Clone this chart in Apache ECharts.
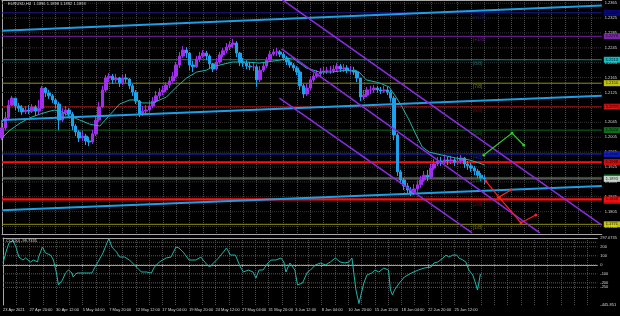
<!DOCTYPE html>
<html><head><meta charset="utf-8">
<script src="https://cdn.jsdelivr.net/npm/echarts@6/dist/echarts.min.js"></script>
<style>html,body{margin:0;padding:0;background:#000;}#c{width:620px;height:316px;}</style>
</head><body><div id="c"></div>
<script>
// ---------- data ----------
const tickLabels = ['23 Apr 2021','27 Apr 20:00','30 Apr 12:00','5 May 04:00','7 May 20:00','12 May 12:00','17 May 04:00','19 May 20:00','24 May 12:00','27 May 04:00','31 May 20:00','3 Jun 12:00','8 Jun 04:00','10 Jun 20:00','15 Jun 12:00','18 Jun 04:00','22 Jun 20:00','25 Jun 12:00'];
const slotCount = 180;          // 8-hour slots incl. empty future space
const firstOpen = 1.2003;
const closes = [1.2030,1.2057,1.2091,1.2110,1.2089,1.2083,1.2073,1.2078,1.2075,1.2086,
1.2075,1.2083,1.2137,1.2124,1.2116,1.2105,1.2094,1.2051,1.2070,1.2078,
1.2067,1.2035,1.2019,1.2003,1.2008,1.1995,1.1992,1.2014,1.2051,1.2086,
1.2132,1.2164,1.2169,1.2159,1.2164,1.2151,1.2164,1.2161,1.2143,1.2126,
1.2102,1.2067,1.2075,1.2078,1.2089,1.2102,1.2116,1.2126,1.2132,1.2145,
1.2156,1.2169,1.2199,1.2223,1.2239,1.2231,1.2199,1.2194,1.2215,1.2223,
1.2231,1.2223,1.2202,1.2188,1.2207,1.2226,1.2237,1.2247,1.2253,1.2258,
1.2231,1.2207,1.2204,1.2196,1.2194,1.2194,1.2159,1.2185,1.2196,1.2212,
1.2228,1.2234,1.2234,1.2228,1.2218,1.2207,1.2199,1.2191,1.2180,1.2143,
1.2121,1.2137,1.2159,1.2169,1.2175,1.2180,1.2183,1.2183,1.2183,1.2188,
1.2196,1.2188,1.2191,1.2185,1.2185,1.2180,1.2164,1.2113,1.2118,1.2132,
1.2132,1.2137,1.2132,1.2129,1.2132,1.2126,1.2110,1.2011,1.1912,1.1890,
1.1874,1.1863,1.1855,1.1866,1.1877,1.1890,1.1903,1.1898,1.1922,1.1933,
1.1941,1.1938,1.1944,1.1941,1.1944,1.1938,1.1941,1.1949,1.1933,1.1928,
1.1922,1.1914,1.1903,1.1895,1.1893];
const highs = [1.2051,1.2073,1.2105,1.2116,1.2110,1.2097,1.2091,1.2089,1.2091,1.2094,
1.2091,1.2105,1.2143,1.2140,1.2132,1.2121,1.2110,1.2100,1.2083,1.2089,
1.2083,1.2073,1.2040,1.2024,1.2022,1.2014,1.2006,1.2024,1.2062,1.2100,
1.2143,1.2172,1.2177,1.2175,1.2175,1.2167,1.2172,1.2175,1.2164,1.2148,
1.2132,1.2105,1.2089,1.2091,1.2102,1.2113,1.2129,1.2137,1.2143,1.2153,
1.2167,1.2180,1.2207,1.2234,1.2250,1.2247,1.2234,1.2210,1.2223,1.2234,
1.2239,1.2237,1.2228,1.2204,1.2218,1.2234,1.2245,1.2258,1.2263,1.2269,
1.2263,1.2234,1.2218,1.2212,1.2207,1.2204,1.2199,1.2196,1.2207,1.2220,
1.2237,1.2242,1.2245,1.2239,1.2234,1.2223,1.2212,1.2204,1.2196,1.2185,
1.2148,1.2148,1.2167,1.2177,1.2185,1.2191,1.2194,1.2194,1.2196,1.2199,
1.2204,1.2202,1.2202,1.2199,1.2196,1.2194,1.2185,1.2164,1.2132,1.2140,
1.2143,1.2145,1.2143,1.2140,1.2143,1.2140,1.2132,1.2116,1.2016,1.1917,
1.1895,1.1882,1.1871,1.1879,1.1887,1.1901,1.1914,1.1917,1.1933,1.1946,
1.1952,1.1952,1.1954,1.1952,1.1954,1.1949,1.1952,1.1957,1.1952,1.1941,
1.1936,1.1928,1.1920,1.1909,1.1903];
const lows = [1.1997,1.2024,1.2051,1.2089,1.2078,1.2073,1.2065,1.2067,1.2067,1.2070,
1.2062,1.2065,1.2083,1.2113,1.2108,1.2097,1.2083,1.2024,1.2046,1.2062,
1.2059,1.2024,1.2008,1.1992,1.1995,1.1984,1.1981,1.1987,1.2008,1.2046,
1.2083,1.2126,1.2153,1.2148,1.2151,1.2140,1.2145,1.2151,1.2134,1.2116,
1.2094,1.2059,1.2062,1.2067,1.2073,1.2083,1.2097,1.2108,1.2118,1.2126,
1.2137,1.2151,1.2164,1.2191,1.2218,1.2218,1.2185,1.2180,1.2191,1.2207,
1.2218,1.2212,1.2191,1.2180,1.2185,1.2202,1.2220,1.2231,1.2239,1.2245,
1.2220,1.2196,1.2194,1.2188,1.2185,1.2183,1.2140,1.2153,1.2180,1.2191,
1.2210,1.2223,1.2223,1.2220,1.2210,1.2199,1.2191,1.2183,1.2172,1.2132,
1.2110,1.2116,1.2132,1.2153,1.2164,1.2169,1.2172,1.2175,1.2175,1.2177,
1.2183,1.2180,1.2180,1.2177,1.2175,1.2172,1.2153,1.2102,1.2105,1.2113,
1.2121,1.2124,1.2124,1.2121,1.2124,1.2118,1.2100,1.1997,1.1901,1.1879,
1.1863,1.1852,1.1847,1.1850,1.1858,1.1869,1.1885,1.1887,1.1895,1.1917,
1.1928,1.1928,1.1933,1.1930,1.1933,1.1928,1.1930,1.1933,1.1922,1.1917,
1.1912,1.1903,1.1895,1.1887,1.1879];
const maPoints = [[0,1.2003],[2.4,1.2024],[5.4,1.2043],[8.3,1.2057],[11.3,1.2067],[14.3,1.2075],[15.8,1.2078],[17.9,1.2073],[20.2,1.2062],[23.2,1.2051],[26.2,1.2040],[29.2,1.2035],[32.2,1.2065],[35.1,1.2094],[38.1,1.2105],[40.2,1.2105],[42.0,1.2097],[45.0,1.2097],[49.1,1.2113],[52.1,1.2140],[55.1,1.2164],[58.1,1.2180],[61.0,1.2185],[62.8,1.2194],[68.8,1.2207],[73.0,1.2207],[76.8,1.2204],[82.8,1.2212],[86.7,1.2218],[90.8,1.2191],[94.7,1.2180],[98.6,1.2180],[102.7,1.2185],[106.6,1.2180],[108.7,1.2159],[112.6,1.2151],[115.5,1.2140],[117.6,1.2113],[119.4,1.2086],[121.5,1.2051],[123.6,1.2011],[125.4,1.1979],[127.5,1.1965],[131.3,1.1957],[135.5,1.1949],[139.4,1.1944],[142.3,1.1936],[144.1,1.1930]];
const cciPoints = [[0,20],[0.9,142],[1.8,242],[3.0,270],[3.9,197],[4.8,86],[6.0,53],[6.8,75],[8.3,31],[9.2,53],[10.4,31],[10.7,86],[11.9,197],[12.8,131],[14.3,108],[15.2,53],[16.1,-91],[16.7,-224],[17.9,-169],[18.8,-91],[19.7,-58],[20.8,-91],[21.1,-135],[22.3,-91],[23.8,-91],[25.3,-91],[26.8,-91],[27.7,-25],[28.6,31],[30.1,131],[31.3,242],[31.9,290],[32.8,197],[34.2,142],[35.1,86],[36.6,86],[38.1,53],[40.2,-25],[41.7,-80],[43.2,-80],[44.7,-91],[45.6,-25],[47.1,31],[49.1,75],[50.6,86],[52.1,197],[53.0,186],[54.5,131],[56.0,53],[58.1,53],[59.6,86],[61.0,20],[62.2,-25],[63.4,20],[64.9,75],[66.4,142],[67.3,186],[68.5,108],[70.0,108],[71.5,-25],[72.4,-80],[73.9,-58],[75.3,-80],[76.2,-147],[77.1,-58],[78.3,-58],[79.8,20],[80.7,53],[82.2,53],[83.7,75],[84.6,31],[85.2,-80],[86.4,20],[86.7,31],[87.9,-58],[88.7,-224],[90.2,-202],[91.7,-80],[92.6,-58],[94.1,-2],[95.6,20],[97.1,-2],[98.6,31],[100.1,75],[101.5,31],[103.0,20],[104.2,31],[105.1,75],[105.7,53],[106.3,-280],[107.2,-430],[107.8,-335],[108.7,-202],[109.6,-113],[111.1,-91],[112.0,-58],[113.2,-80],[114.7,-36],[116.1,-58],[116.7,-280],[117.3,-335],[117.9,-280],[119.4,-202],[120.9,-135],[123.0,-91],[125.1,-58],[126.9,-36],[128.9,-25],[129.8,20],[131.0,31],[132.5,75],[133.4,108],[134.3,86],[135.5,108],[136.7,108],[137.3,75],[138.5,53],[139.4,31],[140.3,-58],[141.5,-113],[142.3,-202],[142.9,-280],[143.2,-224],[143.8,-100]];
const priceMin = 1.1745, priceMax = 1.23735;
const priceTicks = [1.2365,1.2325,1.2285,1.2245,1.2205,1.2165,1.2125,1.2085,1.2045,1.2005,1.1965,1.1925,1.1885,1.1845,1.1805,1.1765];
const cciMin = -445.851, cciMax = 297.0735;
const cciTicks = [297.0735,200,100,0,-100,-200,-250,-445.851];
const cciLevels = [250,200,100,0,-100,-200,-250];
const murrayLevels = [1.2339,1.2276,1.2213,1.2150,1.2087,1.2024,1.1960,1.1897,1.1834,1.1771];
const murrayNames = ['[+2/8]','[+1/8]','[8/8]','[7/8]','[6/8]','[5/8]','[4/8]','[3/8]','[2/8]','[1/8]'];
const murrayLineColors = ['#1a1a9a','#7a1fa8','#0f8f8f','#8f8f10','#8f1010','#0f6f1f','#1a2af0','#0f6f1f','#8f1010','#8f8f10'];
const murrayBoxColors = ['#0a0a9a','#9a30d0','#10e8f0','#f0f010','#f01010','#108a20','#1020f0','#108a20','#f01010','#f0f010'];
const redLevels = [1.1938, 1.1838];
const blueChannel = [[[0,1.2291],[179,1.2359]],[[0,1.2051],[179,1.2116]],[[0,1.1809],[179,1.1874]]];
const purpleChannel = [[[83.7,1.2374],[179,1.1769]],[[83.4,1.2242],[160.5,1.1748]],[[82.8,1.2110],[140.3,1.1748]]];
const greenPath = [[143.8,1.1957],[152.2,1.2016],[155.7,1.1984]];
const redPath1 = [[144.4,1.1887],[148.3,1.1844],[151.9,1.1863]];
const redPath2 = [[148.3,1.1844],[154.9,1.1775],[159.3,1.1796]];
const murrayLabelSlot = 140.5;

// ---------- chart ----------
const FONT = '"Liberation Sans", Arial, sans-serif';
const TXT = '#d8d8d8';
const GRIDC = '#4c4c4c';
const lastSlot = slotCount - 1;
const cats = Array.from({length: slotCount}, (_, i) => String(i));
const candleData = closes.map((c, i) => [i === 0 ? firstOpen : closes[i - 1], c, lows[i], highs[i]]);
const lastClose = closes[closes.length - 1];
const showTick = (i) => i % 8 === 0 && i / 8 < tickLabels.length;

function poly(points, color, width, extra) {
  return Object.assign({
    type: 'line', xAxisIndex: 2, yAxisIndex: 0, data: points, symbol: 'none',
    lineStyle: { color: color, width: width }, silent: true, z: 4
  }, extra || {});
}
function hline(v, color, width, type, z, xAxisIndex, yAxisIndex) {
  return { type: 'line', xAxisIndex: xAxisIndex, yAxisIndex: yAxisIndex, data: [[0, v], [lastSlot, v]], symbol: 'none',
    lineStyle: { color: color, width: width, type: type }, silent: true, z: z };
}

const series = [];
// price grid (dotted)
priceTicks.forEach(v => series.push(hline(v, '#333333', 1, 'dotted', 0, 2, 0)));
// Murray levels
murrayLevels.forEach((v, i) => series.push(hline(v, murrayLineColors[i], 1, 'solid', 1, 2, 0)));
// bid line
series.push(hline(lastClose, '#8a8a8a', 1, 'solid', 1, 2, 0));
// red levels
redLevels.forEach(v => series.push(hline(v, '#ff1010', 2, 'solid', 1, 2, 0)));
// candles
series.push({ type: 'candlestick', xAxisIndex: 0, yAxisIndex: 0, data: candleData, barWidth: 3, silent: true, z: 2,
  itemStyle: { color: '#a02ff0', color0: '#1fa2ee', borderColor: '#a02ff0', borderColor0: '#1fa2ee', borderWidth: 1 } });
series.push(poly(maPoints, '#1fb5aa', 1));
blueChannel.forEach(l => series.push(poly(l, '#1d9fe6', 2)));
purpleChannel.forEach(l => series.push(poly(l, '#8a2be2', 1.5)));
series.push(poly(greenPath, '#2ad02a', 1.2, { symbol: 'circle', symbolSize: 3, itemStyle: { color: '#2ad02a' } }));
series.push(poly(redPath1, '#ff2020', 1.2, { symbol: 'circle', symbolSize: 3, itemStyle: { color: '#ff2020' } }));
series.push(poly(redPath2, '#ff2020', 1.2, { symbol: 'circle', symbolSize: 3, itemStyle: { color: '#ff2020' } }));
// Murray level names in the chart
series.push({ type: 'scatter', xAxisIndex: 2, yAxisIndex: 0, symbolSize: 0, silent: true, z: 5,
  data: murrayLevels.map((v, i) => ({ value: [murrayLabelSlot, v],
    label: { show: true, formatter: murrayNames[i], position: [0, 1], align: 'left', verticalAlign: 'top',
      color: murrayLineColors[i], fontSize: 5, fontFamily: FONT } })) });
// price boxes on the right axis
const boxes = [];
murrayLevels.forEach((v, i) => boxes.push({ v: v, bg: murrayBoxColors[i] }));
redLevels.forEach(v => boxes.push({ v: v, bg: '#ff1010' }));
boxes.push({ v: lastClose, bg: '#f0f0f0' });
series.push({ type: 'scatter', xAxisIndex: 2, yAxisIndex: 0, symbolSize: 0, silent: true, z: 6, clip: false,
  data: boxes.map(b => ({ value: [lastSlot, b.v],
    label: { show: true, position: 'right', distance: 2, formatter: b.v.toFixed(4),
      backgroundColor: b.bg, color: '#000', fontSize: 4, lineHeight: 5, padding: [1, 2, 0, 2], fontFamily: FONT } })) });
// CCI
cciLevels.forEach(v => series.push(hline(v, '#5a5a5a', 1, 'dotted', 1, 3, 1)));
series.push({ type: 'line', xAxisIndex: 3, yAxisIndex: 1, data: cciPoints, symbol: 'none', silent: true, z: 3,
  lineStyle: { color: '#1fb5aa', width: 1 } });

const axisLineStyle = { show: true, lineStyle: { color: '#a8a8a8', width: 1 } };
const option = {
  backgroundColor: '#000',
  animation: false,
  textStyle: { fontFamily: FONT },
  title: [
    { text: 'EURUSD,H4  1.1896 1.1898 1.1892 1.1893', left: 8, top: 2, padding: 0,
      textStyle: { color: TXT, fontSize: 4, fontWeight: 'normal', fontFamily: FONT } },
    { text: 'CCI(20) -99.7335', left: 6, top: 239, padding: 0,
      textStyle: { color: TXT, fontSize: 4, fontWeight: 'normal', fontFamily: FONT } }
  ],
  grid: [
    { left: 2, right: 17, top: 0, height: 234 },
    { left: 2, right: 17, top: 238, height: 67 }
  ],
  xAxis: [
    { type: 'category', gridIndex: 0, data: cats, boundaryGap: false,
      axisLine: axisLineStyle, axisTick: { show: false }, axisLabel: { show: false },
      splitLine: { show: true, interval: (i) => i % 4 === 0, lineStyle: { color: GRIDC, type: 'dotted', width: 1 } } },
    { type: 'category', gridIndex: 1, data: cats, boundaryGap: false,
      axisLine: axisLineStyle,
      axisTick: { show: true, interval: showTick, length: 2, lineStyle: { color: '#a8a8a8' } },
      axisLabel: { show: true, interval: showTick, formatter: (v, i) => tickLabels[i / 8] || '', align: 'left',
        fontSize: 4, color: TXT, margin: 3, fontFamily: FONT },
      splitLine: { show: true, interval: (i) => i % 4 === 0, lineStyle: { color: GRIDC, type: 'dotted', width: 1 } } },
    { type: 'value', gridIndex: 0, min: 0, max: lastSlot, position: 'top',
      axisLine: axisLineStyle, axisTick: { show: false }, axisLabel: { show: false }, splitLine: { show: false } },
    { type: 'value', gridIndex: 1, min: 0, max: lastSlot, position: 'top',
      axisLine: axisLineStyle, axisTick: { show: false }, axisLabel: { show: false }, splitLine: { show: false } }
  ],
  yAxis: [
    { type: 'value', gridIndex: 0, position: 'right', min: priceMin, max: priceMax,
      axisLine: axisLineStyle, axisTick: { show: false }, splitLine: { show: false },
      axisLabel: { customValues: priceTicks, formatter: (v) => Number(v).toFixed(4), fontSize: 4, color: TXT, margin: 3, fontFamily: FONT } },
    { type: 'value', gridIndex: 1, position: 'right', min: cciMin, max: cciMax,
      axisLine: axisLineStyle, axisTick: { show: false }, splitLine: { show: false },
      axisLabel: { customValues: cciTicks, formatter: (v) => String(v), fontSize: 4, color: TXT, margin: 3, fontFamily: FONT } }
  ],
  series: series
};
const chart = echarts.init(document.getElementById('c'), null, { renderer: 'canvas' });
chart.setOption(option);
</script>
</body></html>
